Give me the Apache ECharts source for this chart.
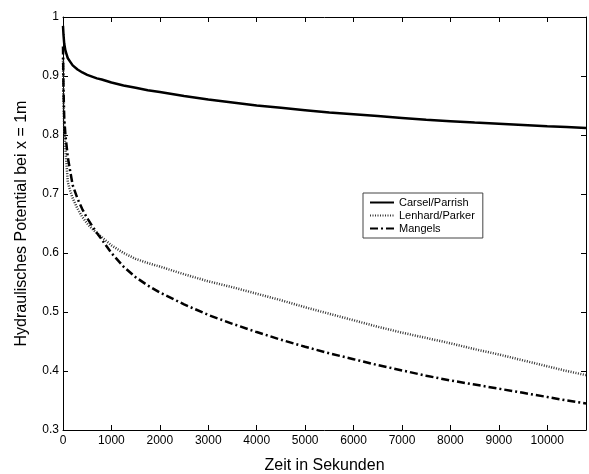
<!DOCTYPE html>
<html>
<head>
<meta charset="utf-8">
<script src="https://cdn.jsdelivr.net/npm/echarts@6/dist/echarts.min.js"></script>
<style>html,body{margin:0;padding:0;background:#fff}#c{width:589px;height:474px}</style>
</head>
<body>
<div id="c"></div>
<script>
var times = [0, 10, 25, 50, 100, 150, 200, 300, 400, 500, 600, 700, 800, 1000, 1250, 1500, 1750, 2000, 2500, 3000, 3500, 4000, 4500, 5000, 5500, 6000, 6500, 7000, 7500, 8000, 8500, 9000, 9500, 10000, 10400, 10800];
var carsel = [0.985, 0.97, 0.955, 0.943, 0.93, 0.924, 0.918, 0.911, 0.906, 0.902, 0.899, 0.896, 0.894, 0.889, 0.884, 0.880, 0.876, 0.873, 0.866, 0.860, 0.855, 0.850, 0.846, 0.842, 0.838, 0.835, 0.832, 0.829, 0.826, 0.8235, 0.821, 0.819, 0.817, 0.815, 0.8135, 0.812];
var lenhard = [0.93, 0.86, 0.81, 0.775, 0.72, 0.705, 0.693, 0.675, 0.661, 0.65, 0.641, 0.634, 0.627, 0.613, 0.600, 0.590, 0.583, 0.577, 0.564, 0.552, 0.542, 0.531, 0.520, 0.508, 0.497, 0.486, 0.475, 0.465, 0.456, 0.447, 0.437, 0.428, 0.418, 0.408, 0.400, 0.393];
var mangels = [0.95, 0.88, 0.83, 0.80, 0.762, 0.738, 0.715, 0.692, 0.674, 0.659, 0.646, 0.634, 0.623, 0.600, 0.577, 0.559, 0.545, 0.533, 0.513, 0.495, 0.480, 0.466, 0.453, 0.441, 0.430, 0.420, 0.410, 0.401, 0.392, 0.384, 0.377, 0.370, 0.363, 0.356, 0.350, 0.345];
var seriesNames = ['Carsel/Parrish', 'Lenhard/Parker', 'Mangels'];
var xTickInterval = 1000, yTickInterval = 0.1;

function pairs(vals){ return times.map(function(t,i){ return [t, vals[i]]; }); }

var font = 'Liberation Sans, Arial, sans-serif';
var chart = echarts.init(document.getElementById('c'), null, {renderer:'canvas'});
var axisBase = {
  axisLine: {show: true, onZero: false, lineStyle: {color: '#000', width: 1}},
  axisTick: {show: true, inside: true, length: 5, lineStyle: {color: '#000'}},
  splitLine: {show: false}
};
chart.setOption({
  animation: false,
  backgroundColor: '#fff',
  grid: {left: 63, right: 3, top: 17, bottom: 44, containLabel: false, outerBoundsMode: 'none'},
  legend: {
    orient: 'vertical', left: 363, top: 193,
    data: seriesNames,
    backgroundColor: '#fff', borderColor: '#444', borderWidth: 1,
    padding: [4, 8, 4, 6], itemGap: 2, itemWidth: 24, itemHeight: 10,
    itemStyle: {opacity: 0},
    textStyle: {fontFamily: font, fontSize: 11, color: '#000'}
  },
  xAxis: [
    Object.assign({}, axisBase, {
      type: 'value', min: 0, max: 10800, interval: xTickInterval, position: 'bottom',
      name: 'Zeit in Sekunden', nameLocation: 'middle', nameGap: 28,
      nameTextStyle: {fontFamily: font, fontSize: 16, color: '#000'},
      axisLabel: {fontFamily: font, fontSize: 12, color: '#000', margin: 5, showMaxLabel: false,
                  formatter: function(v){ return String(v); }}
    }),
    Object.assign({}, axisBase, {
      type: 'value', min: 0, max: 10800, interval: xTickInterval, position: 'top',
      axisLabel: {show: false}
    })
  ],
  yAxis: [
    Object.assign({}, axisBase, {
      type: 'value', min: 0.3, max: 1, interval: yTickInterval, position: 'left',
      name: 'Hydraulisches Potential bei x = 1m', nameLocation: 'middle', nameGap: 33,
      nameTextStyle: {fontFamily: font, fontSize: 16, color: '#000'},
      axisLabel: {fontFamily: font, fontSize: 12, color: '#000', margin: 4}
    }),
    Object.assign({}, axisBase, {
      type: 'value', min: 0.3, max: 1, interval: yTickInterval, position: 'right',
      axisLabel: {show: false}
    })
  ],
  series: [
    {name: seriesNames[0], type: 'line', data: pairs(carsel), showSymbol: false, symbol: 'none',
     smooth: false, lineStyle: {color: '#000', width: 2.5, type: 'solid'}, itemStyle: {color: '#000'}},
    {name: seriesNames[1], type: 'line', data: pairs(lenhard), showSymbol: false, symbol: 'none',
     smooth: false, lineStyle: {color: '#333', width: 2.5, type: [1, 1.5]}, itemStyle: {color: '#333'}},
    {name: seriesNames[2], type: 'line', data: pairs(mangels), showSymbol: false, symbol: 'none',
     smooth: false, lineStyle: {color: '#000', width: 2.5, type: [8, 3, 2, 3]}, itemStyle: {color: '#000'}}
  ]
});
</script>
</body>
</html>
